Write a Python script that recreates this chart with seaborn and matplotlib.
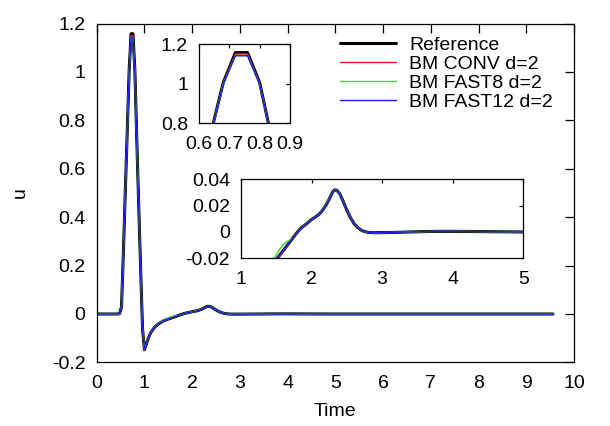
import numpy as np
import pandas as pd
import matplotlib
matplotlib.use("Agg")
import matplotlib.pyplot as plt
import seaborn as sns

# ---------------- data ----------------
time = [0.0, 0.44, 0.48, 0.52, 0.56, 0.60, 0.64, 0.68, 0.72, 0.76, 0.80, 0.84, 0.88, 0.92, 0.96,
        1.00, 1.04, 1.08, 1.12, 1.16, 1.20, 1.25, 1.30, 1.35, 1.40, 1.45, 1.50, 1.55, 1.60, 1.65,
        1.70, 1.75, 1.80, 1.85, 1.90, 1.95, 2.00, 2.05, 2.10, 2.15, 2.20, 2.25, 2.30, 2.33, 2.36,
        2.40, 2.45, 2.50, 2.55, 2.60, 2.65, 2.70, 2.75, 2.80, 2.90, 3.00, 3.20, 3.40, 3.60, 3.80,
        4.00, 4.20, 4.50, 5.00, 6.00, 7.00, 8.00, 9.00, 9.56]

reference = [0.0, 0.0, 0.002, 0.03, 0.26, 0.51, 0.756, 1.006, 1.158, 1.158, 1.006, 0.72, 0.45, 0.19, -0.06,
             -0.148, -0.125, -0.100, -0.082, -0.069, -0.058, -0.048, -0.040, -0.034, -0.028, -0.024, -0.021, -0.0175, -0.014, -0.0105,
             -0.007, -0.0035, 0.0, 0.003, 0.005, 0.0072, 0.0095, 0.0112, 0.0132, 0.016, 0.020, 0.025, 0.0305, 0.032, 0.0315,
             0.029, 0.023, 0.0165, 0.011, 0.0065, 0.0035, 0.0015, 0.0003, -0.0003, -0.0006, -0.0005, -0.0003, 0.0, 0.0003, 0.0005,
             0.0005, 0.0004, 0.0002, 0.0, 0.0, 0.0, 0.0, 0.0, 0.0]

bm_conv = [0.0, 0.0, 0.002, 0.03, 0.26, 0.51, 0.755, 1.004, 1.151, 1.151, 1.004, 0.72, 0.45, 0.19, -0.062,
           -0.150, -0.126, -0.101, -0.083, -0.070, -0.059, -0.049, -0.041, -0.035, -0.029, -0.025, -0.0215, -0.018, -0.0142, -0.0106,
           -0.0071, -0.0036, -0.0001, 0.0029, 0.0049, 0.0071, 0.0094, 0.0111, 0.0131, 0.0159, 0.0199, 0.0249, 0.0303, 0.0318, 0.0313,
           0.0288, 0.0229, 0.0164, 0.0109, 0.0065, 0.0035, 0.0015, 0.0003, -0.0003, -0.0006, -0.0005, -0.0003, 0.0, 0.0003, 0.0005,
           0.0005, 0.0004, 0.0002, 0.0, 0.0, 0.0, 0.0, 0.0, 0.0]

bm_fast8 = [0.0, 0.0, 0.002, 0.03, 0.26, 0.51, 0.752, 1.000, 1.143, 1.143, 1.000, 0.72, 0.45, 0.19, -0.06,
            -0.147, -0.124, -0.099, -0.081, -0.068, -0.057, -0.047, -0.039, -0.032, -0.026, -0.021, -0.0175, -0.013, -0.0095, -0.0075,
            -0.0060, -0.0035, 0.0002, 0.0031, 0.0051, 0.0073, 0.0096, 0.0113, 0.0133, 0.0161, 0.0201, 0.0251, 0.0304, 0.0318, 0.0314,
            0.0290, 0.0231, 0.0166, 0.0111, 0.0066, 0.0036, 0.0016, 0.0003, -0.0003, -0.0006, -0.0005, -0.0003, 0.0, 0.0003, 0.0005,
            0.0005, 0.0004, 0.0002, 0.0, 0.0, 0.0, 0.0, 0.0, 0.0]

bm_fast12 = [0.0, 0.0, 0.002, 0.03, 0.26, 0.51, 0.752, 1.000, 1.142, 1.142, 1.000, 0.72, 0.45, 0.19, -0.06,
             -0.146, -0.124, -0.100, -0.082, -0.069, -0.058, -0.048, -0.040, -0.034, -0.028, -0.024, -0.0208, -0.0172, -0.0138, -0.0103,
             -0.0069, -0.0034, 0.0001, 0.003, 0.005, 0.0072, 0.0095, 0.0112, 0.0132, 0.016, 0.0198, 0.0248, 0.0302, 0.0316, 0.0312,
             0.0289, 0.0230, 0.0166, 0.0111, 0.0066, 0.0036, 0.0016, 0.0004, -0.0002, -0.0005, -0.0004, -0.0002, 0.0, 0.0003, 0.0005,
             0.0005, 0.0004, 0.0002, 0.0, 0.0, 0.0, 0.0, 0.0, 0.0]

series_names = ["Reference", "BM CONV d=2", "BM FAST8 d=2", "BM FAST12 d=2"]

main_xticks = [0, 1, 2, 3, 4, 5, 6, 7, 8, 9, 10]
main_yticks = [-0.2, 0, 0.2, 0.4, 0.6, 0.8, 1, 1.2]
in1_xticks = [0.6, 0.7, 0.8, 0.9]
in1_yticks = [0.8, 1, 1.2]
in2_xticks = [1, 2, 3, 4, 5]
in2_yticks = [-0.02, 0, 0.02, 0.04]

# ---------------- style ----------------
FS = 14
sns.set_theme(style="white")
plt.rcParams["font.family"] = ["Liberation Sans", "DejaVu Sans"]
plt.rcParams["font.size"] = FS
plt.rcParams["axes.edgecolor"] = "black"
plt.rcParams["axes.linewidth"] = 0.9
plt.rcParams["text.color"] = "black"
plt.rcParams["axes.labelcolor"] = "black"
plt.rcParams["xtick.color"] = "black"
plt.rcParams["ytick.color"] = "black"

df = pd.DataFrame({
    "Time": time * 4,
    "u": reference + bm_conv + bm_fast8 + bm_fast12,
    "series": sum([[n] * len(time) for n in series_names], []),
})

colors = {"Reference": "black", "BM CONV d=2": "#e8141a",
          "BM FAST8 d=2": "#22e622", "BM FAST12 d=2": "#1a1aee"}
widths = {"Reference": 2.2, "BM CONV d=2": 1.0, "BM FAST8 d=2": 1.0, "BM FAST12 d=2": 1.0}


def draw(ax):
    for name in series_names:
        sub = df[df["series"] == name]
        sns.lineplot(data=sub, x="Time", y="u", ax=ax, color=colors[name],
                     linewidth=widths[name], label=name, legend=False,
                     estimator=None, sort=False)


def fmt(v):
    return "%g" % v


def style_ax(ax, xt, yt, xlim, ylim, ticklen):
    ax.set_xlim(*xlim)
    ax.set_ylim(*ylim)
    ax.set_xticks(xt)
    ax.set_yticks(yt)
    ax.set_xticklabels([fmt(v) for v in xt])
    ax.set_yticklabels([fmt(v) for v in yt])
    ax.tick_params(direction="in", length=ticklen, width=0.9, top=True, right=True,
                   labelsize=FS, colors="black")
    ax.tick_params(axis="x", pad=9)
    ax.tick_params(axis="y", pad=8)
    for s in ax.spines.values():
        s.set_visible(True)
        s.set_color("black")
        s.set_linewidth(0.9)
    ax.set_xlabel("")
    ax.set_ylabel("")
    ax.set_facecolor("white")


W, H = 610, 426
fig = plt.figure(figsize=(6.1, 4.26), dpi=100)

ax = fig.add_axes([96.7 / W, 1 - 362.4 / H, (574 - 96.7) / W, (362.4 - 23.6) / H])
draw(ax)
style_ax(ax, main_xticks, main_yticks, (0, 10), (-0.2, 1.2), 6.5)
ax.set_xlabel("Time", fontsize=FS, labelpad=8, color="black")
ax.set_ylabel("u", fontsize=FS, labelpad=17, color="black")

handles, labels = ax.get_legend_handles_labels()
leg = fig.legend(handles, labels, loc="upper left", bbox_to_anchor=(340 / W, 1 - 36 / H),
                 frameon=False, fontsize=FS, handlelength=2.9, handletextpad=0.67,
                 labelspacing=0.07, borderpad=0, borderaxespad=0)
for t in leg.get_texts():
    t.set_color("black")

ax1 = fig.add_axes([199 / W, 1 - 123.3 / H, (290 - 199) / W, (123.3 - 44.3) / H])
draw(ax1)
style_ax(ax1, in1_xticks, in1_yticks, (0.6, 0.9), (0.8, 1.2), 3)

ax2 = fig.add_axes([241 / W, 1 - 258.3 / H, (523.3 - 241) / W, (258.3 - 179.3) / H])
draw(ax2)
style_ax(ax2, in2_xticks, in2_yticks, (1, 5), (-0.02, 0.04), 3)

fig.savefig("out.png", dpi=100, facecolor="white")
